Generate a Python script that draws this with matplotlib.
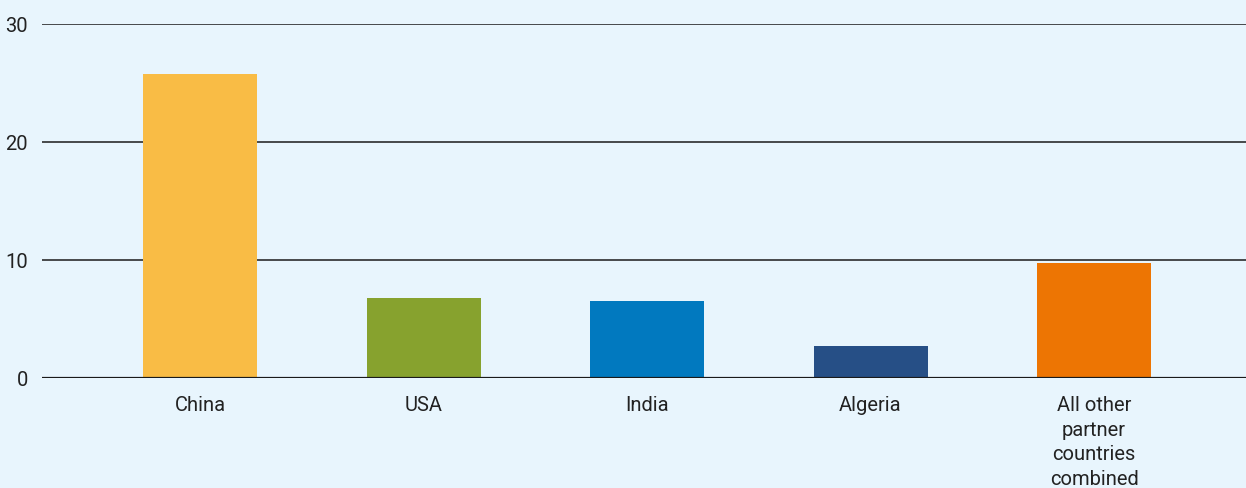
import matplotlib
matplotlib.use("Agg")
import matplotlib.pyplot as plt

categories = ["China", "USA", "India", "Algeria", "All other\npartner\ncountries\ncombined"]
values = [25.8, 6.8, 6.5, 2.7, 9.75]
colors = ["#F9BC45", "#87A22E", "#0179BF", "#264F86", "#ED7503"]
yticks = [0, 10, 20, 30]

bg = "#E8F5FD"
plt.rcParams["font.family"] = ["Roboto", "DejaVu Sans"]

fig = plt.figure(figsize=(12.46, 4.88), dpi=100, facecolor=bg)
ax = fig.add_axes([42 / 1246, 110 / 488, 1 - 42 / 1246, 354 / 488], facecolor=bg)
x = list(range(len(categories)))
ax.bar(x, values, width=0.51, color=colors, zorder=2)
ax.set_xlim(-0.707, 4.68)
ax.set_ylim(0, 30)
ax.set_yticks(yticks)
ax.yaxis.grid(True, color="#1a1a1a", linewidth=1.1, zorder=1)
ax.set_axisbelow(True)
ax.axhline(0, color="#1a1a1a", linewidth=1.6, zorder=3)
ax.set_xticks(x)
ax.set_xticklabels(categories, fontsize=14.5, color="#222222", linespacing=1.37, va="top")
for lab in ax.get_yticklabels():
    lab.set_fontsize(14.5)
    lab.set_color("#222222")
ax.tick_params(axis="both", length=0)
ax.tick_params(axis="y", pad=10)
ax.tick_params(axis="x", pad=13)
for s in ax.spines.values():
    s.set_visible(False)

fig.savefig("out.png", dpi=100, facecolor=bg)
